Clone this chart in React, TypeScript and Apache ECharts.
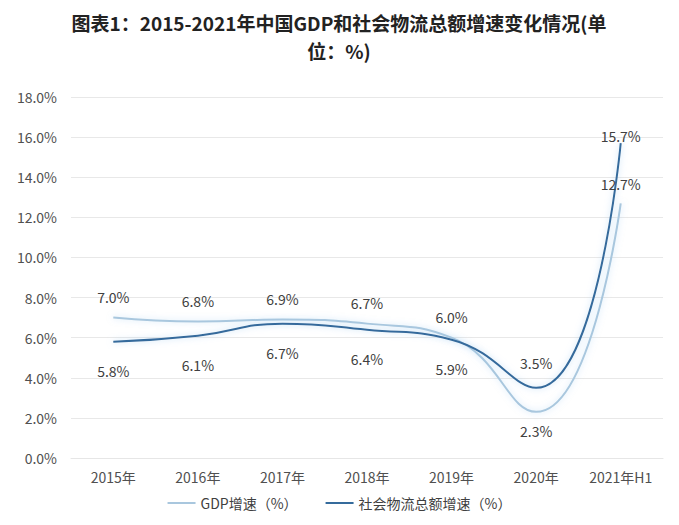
import React, { useEffect, useRef } from "react";
import * as echarts from "echarts";

const categories = ["2015年", "2016年", "2017年", "2018年", "2019年", "2020年", "2021年H1"];
const gdpGrowth = [7.0, 6.8, 6.9, 6.7, 6.0, 2.3, 12.7];
const logisticsGrowth = [5.8, 6.1, 6.7, 6.4, 5.9, 3.5, 15.7];
const gdpLabelPos = ["top", "top", "top", "top", "top", "bottom", "top"];
const logLabelPos = ["bottom", "bottom", "bottom", "bottom", "bottom", "top", "top"];
const gdpLabelDist = [14, 14, 14, 14, 14, 12, 12];
const logLabelDist = [22, 22, 22, 22, 22, 18, 0];
const titleLines = ["图表1：2015-2021年中国GDP和社会物流总额增速变化情况(单", "位：%)"];

export default function App() {
  const ref = useRef<HTMLDivElement>(null);
  useEffect(() => {
    if (!ref.current) return;
    const chart = echarts.init(ref.current, undefined, { renderer: "svg" });
    const font = "'Noto Sans CJK SC', 'DejaVu Sans', sans-serif";
    const labelStyle = { fontSize: 14, color: "#404040", fontFamily: font };
    const gdpColor = "#a9c7de";
    const logColor = "#356b9c";
    chart.setOption({
      animation: false,
      backgroundColor: "#ffffff",
      title: titleLines.map((t, i) => ({
        text: t,
        left: 331,
        top: 1 + i * 28,
        padding: 0,
        textAlign: "center",
        textStyle: {
          fontSize: 19,
          fontWeight: "bold",
          color: "#222222",
          fontFamily: font,
          lineHeight: 26,
        },
      })),
      legend: {
        bottom: 2,
        left: "center",
        itemWidth: 28,
        itemHeight: 2,
        itemGap: 28,
        icon: "rect",
        textStyle: { fontSize: 14, color: "#404040", fontFamily: font },
        data: [
          { name: "GDP增速（%）", itemStyle: { color: gdpColor, opacity: 1 } },
          { name: "社会物流总额增速（%）", itemStyle: { color: logColor, opacity: 1 } },
        ],
      },
      grid: { left: 63, right: 8, top: 89, bottom: 59 },
      xAxis: {
        type: "category",
        data: categories,
        boundaryGap: true,
        axisLine: { show: true, lineStyle: { color: "#e6e6e6" } },
        axisTick: { show: false },
        axisLabel: { fontSize: 14, color: "#505050", fontFamily: font, margin: 12 },
      },
      yAxis: {
        type: "value",
        min: 0,
        max: 18,
        interval: 2,
        axisLine: { show: false },
        axisTick: { show: false },
        splitLine: { lineStyle: { color: "#e8e8e8" } },
        axisLabel: {
          fontSize: 14,
          color: "#505050",
          fontFamily: font,
          margin: 14,
          formatter: (v: number) => v.toFixed(1) + "%",
        },
      },
      series: [
        {
          name: "GDP增速（%）",
          type: "line",
          smooth: 0.5,
          symbol: "circle",
          symbolSize: 0,
          showSymbol: true,
          data: gdpGrowth.map((v, i) => ({
            value: v,
            label: { position: gdpLabelPos[i], distance: gdpLabelDist[i] },
          })),
          lineStyle: { color: gdpColor, width: 2, shadowColor: "rgba(150,200,240,0.5)", shadowBlur: 6 },
          itemStyle: { color: gdpColor },
          label: {
            show: true,
            ...labelStyle,
            formatter: (p: any) => p.value.toFixed(1) + "%",
          },
        },
        {
          name: "社会物流总额增速（%）",
          type: "line",
          smooth: 0.5,
          symbol: "circle",
          symbolSize: 0,
          showSymbol: true,
          data: logisticsGrowth.map((v, i) => ({
            value: v,
            label: { position: logLabelPos[i], distance: logLabelDist[i] },
          })),
          lineStyle: { color: logColor, width: 2, shadowColor: "rgba(150,200,240,0.6)", shadowBlur: 6 },
          itemStyle: { color: logColor },
          label: {
            show: true,
            ...labelStyle,
            formatter: (p: any) => p.value.toFixed(1) + "%",
          },
        },
      ],
    });
    return () => chart.dispose();
  }, []);
  return <div ref={ref} style={{ width: 663, height: 509 }} />;
}
